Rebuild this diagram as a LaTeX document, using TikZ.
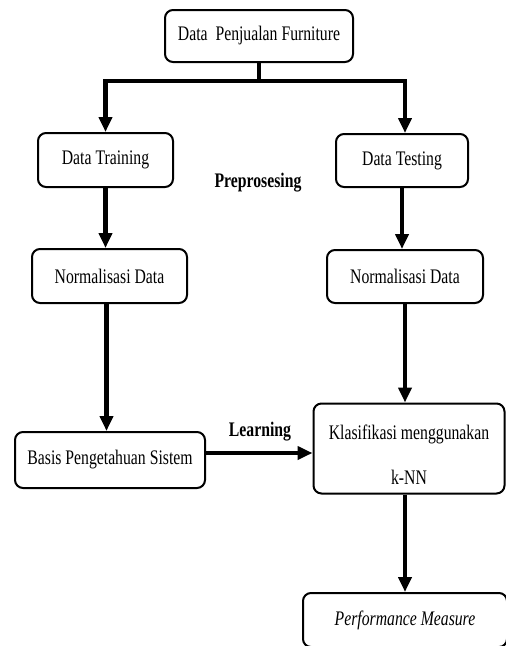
\documentclass[tikz,border=0pt]{standalone}
\usepackage{fontspec}
\setmainfont{Liberation Serif}
\newfontfamily\cond[FakeStretch=0.76]{Liberation Serif}
\usetikzlibrary{arrows.meta}
\begin{document}
\begin{tikzpicture}[x=1pt,y=-1pt,
  box/.style={draw=black, line width=2pt, rounded corners=8pt, fill=white,
    inner sep=0pt, font=\cond\fontsize{20.7}{24}\selectfont},
  lbl/.style={inner sep=0pt, font=\cond\fontsize{20.7}{24}\selectfont},
  arr/.style={line width=4.5pt, -{Triangle[width=13pt,length=15pt]}},
  conn/.style={line width=4.5pt}]
\useasboundingbox (0,0) rectangle (506,646);
\clip (0,0) rectangle (506,646);
\fill[white] (0,0) rectangle (506,646);

\node[box, minimum width=188pt, minimum height=52pt] (top) at (259,36) {Data~~Penjualan Furniture};
\node[box, minimum width=135pt, minimum height=54pt] (train) at (105.5,160) {Data Training};
\node[box, minimum width=132pt, minimum height=53pt] (test) at (402,160.5) {Data Testing};
\node[box, minimum width=155pt, minimum height=54pt] (norml) at (109.5,276) {Normalisasi Data};
\node[box, minimum width=156pt, minimum height=53pt] (normr) at (405,276.5) {Normalisasi Data};
\node[box, minimum width=190pt, minimum height=56pt] (basis) at (110,460) {Basis Pengetahuan Sistem};
\node[box, minimum width=191pt, minimum height=90pt] (klas) at (409,448.5) {};
\node[lbl, align=center, font=\cond\fontsize{20.7}{45}\selectfont] (klastext) at (409,455) {Klasifikasi menggunakan\\k-NN};
\node[box, minimum width=204pt, minimum height=54pt, font=\cond\itshape\fontsize{20.7}{24}\selectfont] (perf) at (405,620) {Performance Measure};

\node[lbl, font=\cond\bfseries\fontsize{20.7}{24}\selectfont] (prep) at (258,183) {Preprosesing};
\node[lbl, font=\cond\bfseries\fontsize{20.7}{24}\selectfont] (learn) at (260,432) {Learning};

\coordinate (bar) at (259,81);
\draw[conn] (top.south) -- (bar);
\draw[arr] (bar) -| (train.north);
\draw[arr] (bar) -| ([xshift=3pt]test.north);
\draw[arr] (train.south) -- (train.south |- norml.north);
\draw[arr] (test.south) -- (test.south |- normr.north);
\draw[arr] ([xshift=-3pt]norml.south) -- ([xshift=-3pt]norml.south |- basis.north);
\draw[arr] (normr.south) -- (normr.south |- klas.north);
\draw[arr] ([yshift=7pt]basis.east) -- ([yshift=7pt]basis.east -| klas.west);
\draw[arr] (klas.south -| normr.south) -- (perf.north -| normr.south);
\end{tikzpicture}
\end{document}
